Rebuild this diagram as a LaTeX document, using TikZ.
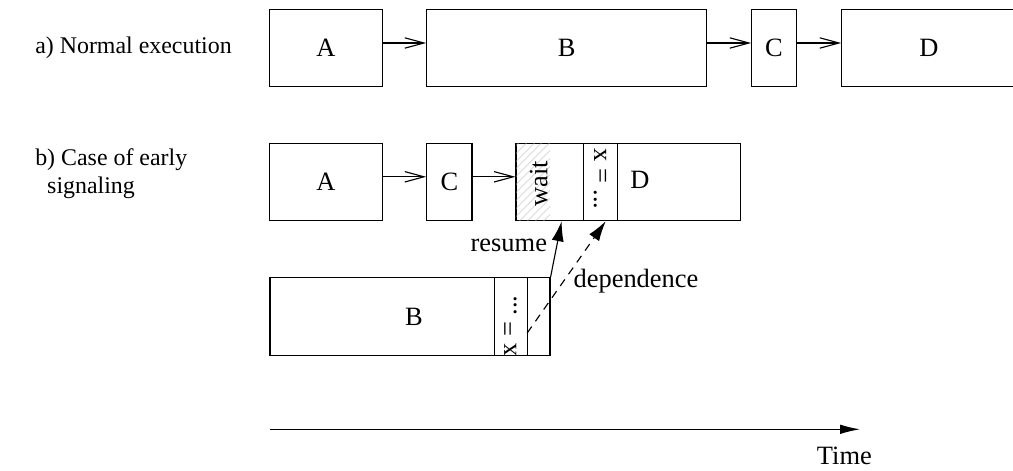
\documentclass[tikz,border=0pt]{standalone}
\usepackage{fontspec}
\setmainfont{Liberation Serif}
\usetikzlibrary{arrows.meta,patterns.meta}

\begin{document}
\begin{tikzpicture}[
    font=\fontsize{18.8}{23}\selectfont,
    box/.style={draw, line width=0.8pt, minimum height=1.935cm, inner sep=0pt},
    txt/.style={inner sep=0pt},
    caption/.style={inner sep=0pt, font=\fontsize{17}{20}\selectfont},
    flow/.style={line width=0.8pt, -{Straight Barb[length=4.8mm,width=2.6mm]}},
    dep/.style={line width=0.8pt, -{Latex[length=5mm,width=3mm]}}
  ]
    \useasboundingbox (0,0) rectangle (25.325,11.75);
    \clip (0,0) rectangle (25.325,11.75);

    % a) normal execution
    \node[caption, anchor=base west] (la) at (0.875,10.4) {a) Normal execution};
    \node[box, minimum width=2.8125cm] (aA) at (8.15,10.55) {A};
    \node[box, minimum width=7cm] (aB) at (14.1675,10.55) {B};
    \node[box, minimum width=1.115cm] (aC) at (19.35,10.55) {C};
    \node[box, minimum width=4.365cm] (aD) at (23.225,10.55) {D};
    \draw[flow] ([yshift=1.25mm]aA.east) -- ([yshift=1.25mm]aB.west);
    \draw[flow] ([yshift=1.25mm]aB.east) -- ([yshift=1.25mm]aC.west);
    \draw[flow] ([yshift=1.25mm]aC.east) -- ([yshift=1.25mm]aD.west);

    % b) early signaling
    \node[caption, anchor=north west, align=left] (lb) at (0.875,8.05)
        {b) Case of early\\\hspace*{0.5em}signaling};
    \node[box, minimum width=2.8125cm] (bA) at (8.15,7.2) {A};
    \node[box, minimum width=1.1325cm] (bC) at (11.234,7.2) {C};
    \node[box, minimum width=1.6825cm] (bWait) at (13.741,7.2) {};
    \node[box, minimum width=0.85cm] (bX) at (15.0075,7.2) {};
    \node[box, minimum width=3.085cm] (bD) at (16.975,7.2) {};
    \fill[pattern={Lines[angle=45,distance=4pt,line width=0.4pt]}, pattern color=gray!60]
        ([shift={(0.4pt,0.4pt)}]bWait.south west) rectangle ([shift={(0.8675cm,-0.4pt)}]bWait.north west);
    \node[txt, rotate=90] (wt) at (13.47,7.16) {wait};
    \node[txt, rotate=-90] (wx) at (15.0,7.275) {x = ...};
    \node[txt] (wd) at (16.0,7.25) {D};
    \draw[flow] ([yshift=1.3mm]bA.east) -- ([yshift=1.3mm]bC.west);
    \draw[flow] ([yshift=1.3mm]bC.east) -- ([yshift=1.3mm]bWait.west);

    % the late B, run alongside
    \node[box, minimum height=1.95cm, minimum width=5.6075cm] (cB) at (9.554,3.8325) {};
    \node[box, minimum height=1.95cm, minimum width=0.835cm] (cX) at (12.775,3.8325) {};
    \node[box, minimum height=1.95cm, minimum width=0.5575cm] (cR) at (13.471,3.8325) {};
    \node[txt] (cb) at (10.35,3.8325) {B};
    \node[txt, rotate=90] (cx) at (12.76,3.6) {x = ...};

    \draw[dep] (cR.north east) -- ([xshift=3mm]bWait.south)
        node[txt, pos=0.45, anchor=base east, xshift=-2mm] (rs) {resume};
    \draw[dep, dashed, dash pattern=on 2mm off 1.6mm]
        ([yshift=-4.1mm]cR.west) -- ([xshift=1.35mm]bX.south);
    \node[txt, anchor=base west] (dp) at (14.333,4.5675) {dependence};

    % time axis
    \coordinate (t0) at (6.75,1.0175);
    \coordinate (t1) at (21.5,1.0175);
    \draw[line width=0.8pt, -{Latex[length=5mm,width=2.4mm]}] (t0) -- (t1);
    \node[txt, anchor=base] (tm) at (21.11,0.15) {Time};
\end{tikzpicture}
\end{document}
